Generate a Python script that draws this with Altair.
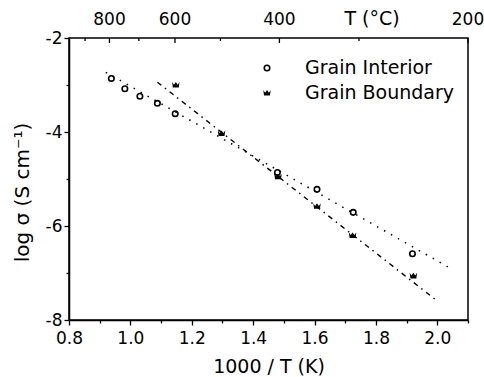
import altair as alt
import pandas as pd

# ---- data ----
gi_x = [0.938, 0.982, 1.031, 1.088, 1.146, 1.479, 1.608, 1.726, 1.919]
gi_y = [-2.86, -3.08, -3.24, -3.39, -3.61, -4.86, -5.22, -5.71, -6.59]
gb_x = [1.148, 1.297, 1.481, 1.608, 1.724, 1.922]
gb_y = [-3.00, -4.03, -4.95, -5.58, -6.20, -7.06]
gi_fit_x = [0.92, 2.04]
gi_fit_y = [-2.73, -6.89]
gb_fit_x = [1.088, 1.993]
gb_fit_y = [-2.94, -7.56]
series = ["Grain Interior", "Grain Boundary"]
top_major_T = [800, 600, 400, 200]
top_minor_T = [900, 700, 500, 300]
x_ticks = [0.8, 0.9, 1.0, 1.1, 1.2, 1.3, 1.4, 1.5, 1.6, 1.7, 1.8, 1.9, 2.0, 2.1]
y_ticks = [-8, -7, -6, -5, -4, -3, -2]

FONT = "DejaVu Sans"
W, H = 399, 282
XMIN, XMAX = 0.8, 2.1
CROWN = "M -1 -0.8 L -0.5 -0.1 L 0 -0.8 L 0.5 -0.1 L 1 -0.8 L 0.8 0.7 L -0.8 0.7 Z"

xscale = alt.Scale(domain=[XMIN, XMAX], nice=False, zero=False)
yscale = alt.Scale(domain=[-8, -2], nice=False, zero=False)

xaxis = alt.Axis(
    values=x_ticks,
    labelExpr="round(datum.value*10) % 2 == 0 ? format(datum.value, '.1f') : ''",
    tickSize={"condition": {"test": "round(datum.value*10) % 2 == 0", "value": 5}, "value": 3},
    title="1000 / T (K)",
    titleFontSize=19, titleFontWeight="normal", titleFont=FONT,
    titleY=46, titleBaseline="middle",
    labelFontSize=17, labelFont=FONT, labelPadding=5,
    grid=False, domain=True, domainColor="black", domainWidth=1.5,
    tickColor="black", tickWidth=1.3, labelColor="black", titleColor="black",
    labelFlush=False,
)
yaxis = alt.Axis(
    values=y_ticks,
    labelExpr="datum.value % 2 == 0 ? '' + datum.value : ''",
    tickSize={"condition": {"test": "datum.value % 2 == 0", "value": 5}, "value": 3},
    title="log σ (S cm⁻¹)",
    titleFontSize=20, titleFontWeight="normal", titleFont=FONT,
    titleX=-47, titleY=154, titleBaseline="middle", titleAlign="center", titleAngle=270,
    labelFontSize=17, labelFont=FONT, labelPadding=2,
    grid=False, domain=True, domainColor="black", domainWidth=1.5,
    tickColor="black", tickWidth=1.3, labelColor="black", titleColor="black",
    labelFlush=False,
)

def X(field):
    return alt.X(field, type="quantitative", scale=xscale, axis=xaxis)

def Y(field):
    return alt.Y(field, type="quantitative", scale=yscale, axis=yaxis)

gi_df = pd.DataFrame({"x": gi_x, "y": gi_y})
gb_df = pd.DataFrame({"x": gb_x, "y": gb_y})
gi_fit = pd.DataFrame({"x": gi_fit_x, "y": gi_fit_y})
gb_fit = pd.DataFrame({"x": gb_fit_x, "y": gb_fit_y})

gi_line = alt.Chart(gi_fit).mark_line(color="black", strokeWidth=1.5, strokeDash=[1.5, 6.5]).encode(x=X("x"), y=Y("y"))
gb_line = alt.Chart(gb_fit).mark_line(color="black", strokeWidth=1.4, strokeDash=[5, 4.5, 1.5, 4.5]).encode(x=X("x"), y=Y("y"))

GI_MARK = dict(shape="circle", size=30, filled=False, color="black", strokeWidth=1.6, opacity=1)
GB_MARK = dict(shape=CROWN, size=55, filled=True, color="black", opacity=1)

gi_pts = alt.Chart(gi_df).mark_point(**GI_MARK).encode(x=X("x"), y=Y("y"))
gb_pts = alt.Chart(gb_df).mark_point(**GB_MARK).encode(x=X("x"), y=Y("y"))

# top temperature axis
top_major = pd.DataFrame({"T": top_major_T})
top_minor = pd.DataFrame({"T": top_minor_T})
xpos = f"min(1000/(datum.T+273.15), {XMAX})"
tmaj = alt.Chart(top_major).transform_calculate(xp=xpos).mark_rule(color="black", strokeWidth=1.3).encode(
    x=X("xp"), y=alt.value(0), y2=alt.value(5))
tmin = alt.Chart(top_minor).transform_calculate(xp=xpos).mark_rule(color="black", strokeWidth=1.3).encode(
    x=X("xp"), y=alt.value(0), y2=alt.value(3))
tlab = alt.Chart(top_major).transform_calculate(xp=xpos).mark_text(
    font=FONT, fontSize=17, baseline="middle", align="center", color="black").encode(
    x=X("xp"), y=alt.value(-18), text=alt.Text("T:Q", format="d"))
ttitle = alt.Chart(pd.DataFrame({"t": ["T (°C)"]})).mark_text(
    font=FONT, fontSize=19, baseline="middle", align="center", color="black").encode(
    x=alt.value(303), y=alt.value(-19), text="t:N")

# manual legend
leg = pd.DataFrame({"s": series, "yp": [30, 55]})
leg_txt = alt.Chart(leg).mark_text(font=FONT, fontSize=19, align="left", baseline="middle", color="black").encode(
    x=alt.value(236), y=alt.Y("yp:Q", scale=None), text="s:N")
leg_gi = alt.Chart(leg.iloc[[0]]).mark_point(**GI_MARK).encode(
    x=alt.value(198), y=alt.Y("yp:Q", scale=None))
leg_gb = alt.Chart(leg.iloc[[1]]).mark_point(**GB_MARK).encode(
    x=alt.value(198), y=alt.Y("yp:Q", scale=None))

chart = alt.layer(
    gi_line, gb_line, gi_pts, gb_pts, tmaj, tmin, tlab, ttitle, leg_txt, leg_gi, leg_gb
).properties(
    width=W, height=H,
    autosize=alt.AutoSizeParams(type="none"),
    padding={"left": 69, "top": 38, "right": 16, "bottom": 57},
    background="white",
).configure_view(stroke="black", strokeWidth=1.5)

chart.save("out.html", embed_options={"renderer": "svg", "actions": False})
